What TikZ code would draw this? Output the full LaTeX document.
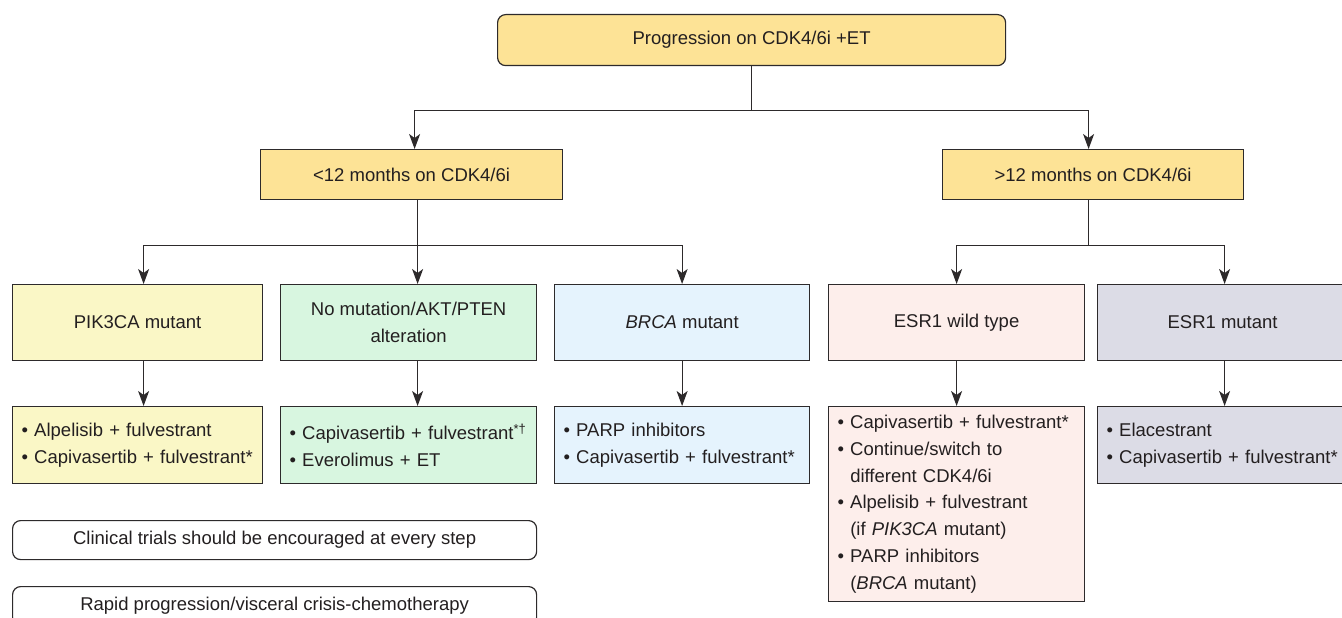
\documentclass[tikz,border=0pt]{standalone}
\usepackage{fontspec}
\setmainfont{Liberation Sans}
\usetikzlibrary{arrows.meta}
\definecolor{linec}{RGB}{45,42,43}
\definecolor{textc}{RGB}{35,31,32}
\definecolor{topfill}{RGB}{253,227,150}
\definecolor{pikfill}{RGB}{250,247,198}
\definecolor{greenfill}{RGB}{216,246,224}
\definecolor{bluefill}{RGB}{229,243,253}
\definecolor{pinkfill}{RGB}{253,238,235}
\definecolor{lavfill}{RGB}{220,220,230}
\newcommand{\bl}[1]{\mbox{\textbullet\ #1}}
\newcommand{\bc}[1]{\mbox{\phantom{\textbullet\ }#1}}
\newcommand{\boxfont}{\fontsize{18.5}{26.8}\selectfont\hyphenpenalty=10000\relax}
\begin{document}
\begin{tikzpicture}[x=1pt,y=-1pt,
  box/.style={draw=linec, line width=1.2pt, text=textc,
    font=\boxfont, anchor=north west,
    inner sep=0pt, align=center},
  bullbox/.style={box, align=left, inner xsep=9pt},
  conn/.style={draw=linec, line width=1.2pt},
  arr/.style={conn, -{Stealth[length=15pt,width=11pt,inset=4pt]}}]
\clip (0,0) rectangle (1342,618);
\useasboundingbox (0,0) rectangle (1342,618);

% level 1
\node[box, fill=topfill, rounded corners=8pt, minimum width=508pt, minimum height=51pt] (top) at (497,14) {Progression on CDK4/6i +ET};

% level 2
\node[box, fill=topfill, minimum width=302pt, minimum height=50pt] (lt) at (260,149) {<12 months on CDK4/6i};
\node[box, fill=topfill, minimum width=301pt, minimum height=50pt] (gt) at (942,149) {>12 months on CDK4/6i};

% level 3
\node[box, fill=pikfill, minimum width=250pt, minimum height=76pt] (pik) at (12,284) {PIK3CA mutant};
\node[box, fill=greenfill, minimum width=256pt, minimum height=76pt] (nom) at (280,284) {No mutation/AKT/PTEN\\alteration};
\node[box, fill=bluefill, minimum width=255pt, minimum height=76pt] (brca) at (554,284) {\textit{BRCA} mutant};
\node[box, fill=pinkfill, minimum width=256pt, minimum height=76pt] (wt) at (828,284) {ESR1 wild type};
\node[box, fill=lavfill, minimum width=250pt, minimum height=76pt] (mut) at (1097,284) {ESR1 mutant};

% level 4
\node[bullbox, fill=pikfill, text width=232pt, minimum height=77pt] (pik4) at (12,406) {\bl{Alpelisib + fulvestrant}\\\bl{Capivasertib + fulvestrant*}};
\node[bullbox, fill=greenfill, text width=238pt, minimum height=77pt] (nom4) at (280,406) {\bl{Capivasertib + fulvestrant\textsuperscript{*†}}\\\bl{Everolimus + ET}};
\node[bullbox, fill=bluefill, text width=237pt, minimum height=77pt] (brca4) at (554,406) {\bl{PARP inhibitors}\\\bl{Capivasertib + fulvestrant*}};
\node[bullbox, fill=pinkfill, text width=238pt, minimum height=195pt] (wt4) at (828,406) {\bl{Capivasertib + fulvestrant*}\\\bl{Continue/switch to}\\\bc{different CDK4/6i}\\\bl{Alpelisib + fulvestrant}\\\bc{(if \textit{PIK3CA} mutant)}\\\bl{PARP inhibitors}\\\bc{(\textit{BRCA} mutant)}};
\node[bullbox, fill=lavfill, text width=232pt, minimum height=77pt] (mut4) at (1097,406) {\bl{Elacestrant}\\\bl{Capivasertib + fulvestrant*}};

% notes
\node[box, fill=white, rounded corners=8pt, minimum width=524pt, minimum height=39pt] (ct) at (12,520) {Clinical trials should be encouraged at every step};
\node[box, fill=white, rounded corners=8pt, minimum width=524pt, minimum height=39pt] (rp) at (12,586) {Rapid progression/visceral crisis-chemotherapy};

% connectors
\path (top.south) ++(0,44) coordinate (j1);
\draw[conn] (top.south) -- (j1);
\draw[arr] (j1) -| ([xshift=3pt]lt.north);
\draw[arr] (j1) -| ([xshift=-4.5pt]gt.north);

\path ([xshift=6pt]lt.south) ++(0,45) coordinate (j2);
\draw[conn] ([xshift=6pt]lt.south) -- (j2);
\draw[arr] (j2) -| ([xshift=6pt]pik.north);
\draw[arr] (j2) -| ([xshift=9pt]nom.north);
\draw[arr] (j2) -| (brca.north);

\path ([xshift=-4.5pt]gt.south) ++(0,45) coordinate (j3);
\draw[conn] ([xshift=-4.5pt]gt.south) -- (j3);
\draw[arr] (j3) -| (wt.north);
\draw[arr] (j3) -| ([xshift=2pt]mut.north);

\draw[arr] ([xshift=6pt]pik.south) -- ([xshift=6pt]pik4.north);
\draw[arr] ([xshift=9pt]nom.south) -- ([xshift=9pt]nom4.north);
\draw[arr] (brca.south) -- (brca4.north);
\draw[arr] (wt.south) -- (wt4.north);
\draw[arr] ([xshift=2pt]mut.south) -- ([xshift=2pt]mut4.north);
\end{tikzpicture}
\end{document}
